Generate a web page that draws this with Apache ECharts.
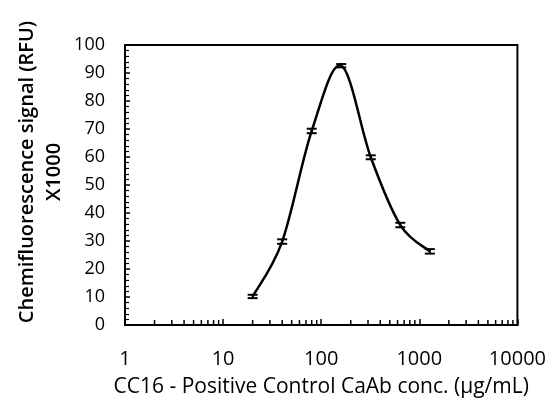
<!DOCTYPE html>
<html>
<head>
<meta charset="utf-8">
<script src="https://cdn.jsdelivr.net/npm/echarts@6/dist/echarts.min.js"></script>
<style>
html,body{margin:0;padding:0;background:#fff;}
#chart{width:549px;height:404px;}
</style>
</head>
<body>
<div id="chart"></div>
<script>
const concentrations = [20, 40, 80, 160, 320, 640, 1280];
const signal = [10.2, 29.8, 69.3, 92.6, 59.9, 35.7, 26.3];
const errors = [0.6, 0.8, 0.8, 0.6, 0.7, 0.8, 0.8];
const xMinorTicks = [2,3,4,5,6,7,8,9,20,30,40,50,60,70,80,90,200,300,400,500,600,700,800,900,2000,3000,4000,5000,6000,7000,8000,9000];
const xTickLabels = ['1','10','100','1000','10000'];
const yTickLabels = ['0','10','20','30','40','50','60','70','80','90','100'];

const FONT = 'Open Sans';
const chart = echarts.init(document.getElementById('chart'));

const lineData = concentrations.map((c, i) => [c, signal[i]]);
const errData = concentrations.map((c, i) => [c, signal[i], errors[i]]);

function curveItem(params, api) {
  if (params.dataIndex !== 0) return null;
  const pts = lineData.map(d => api.coord(d));
  const n = pts.length;
  const children = [];
  for (let i = 0; i < n - 1; i++) {
    const p0 = pts[Math.max(i - 1, 0)], p1 = pts[i], p2 = pts[i + 1], p3 = pts[Math.min(i + 2, n - 1)];
    children.push({type: 'bezierCurve', shape: {
      x1: p1[0], y1: p1[1], x2: p2[0], y2: p2[1],
      cpx1: p1[0] + (p2[0] - p0[0]) / 6, cpy1: p1[1] + (p2[1] - p0[1]) / 6,
      cpx2: p2[0] - (p3[0] - p1[0]) / 6, cpy2: p2[1] - (p3[1] - p1[1]) / 6
    }, style: {stroke: '#000', lineWidth: 2.5, fill: null}});
  }
  return {type: 'group', children};
}

chart.setOption({
  animation: false,
  backgroundColor: '#fff',
  grid: {left: 125, top: 45, right: 31, bottom: 79, show: true, borderColor: '#000', borderWidth: 2, backgroundColor: 'transparent'},
  xAxis: {
    type: 'log', logBase: 10, min: 1, max: 10000,
    axisLine: {lineStyle: {color: '#000', width: 2}},
    axisTick: {inside: true, length: 6, lineStyle: {color: '#000', width: 1.5}},
    splitLine: {show: false},
    axisLabel: {color: '#000', fontFamily: FONT, fontSize: 20, margin: 24,
      formatter: v => { const i = Math.round(Math.log10(v)); return xTickLabels[i] || ''; }},
    name: 'CC16 - Positive Control CaAb conc. (μg/mL)',
    nameLocation: 'middle', nameGap: 52,
    nameTextStyle: {color: '#000', fontFamily: FONT, fontSize: 21}
  },
  yAxis: {
    type: 'value', min: 0, max: 100, interval: 10,
    axisLine: {show: true, lineStyle: {color: '#000', width: 2}},
    axisTick: {show: true, inside: true, length: 5, lineStyle: {color: '#000', width: 1.5}},
    minorTick: {show: true, splitNumber: 5, length: 4, lineStyle: {color: '#000', width: 1.2}},
    splitLine: {show: false},
    axisLabel: {color: '#000', fontFamily: FONT, fontSize: 18, margin: 20,
      formatter: v => yTickLabels[Math.round(v / 10)]}
  },
  graphic: [{
    type: 'text', x: 41, y: 172, rotation: Math.PI / 2,
    style: {text: 'Chemifluorescence signal (RFU)\nX1000', fill: '#000', font: '600 20px "Open Sans"',
      align: 'center', verticalAlign: 'middle', lineHeight: 27}
  }],
  series: [
    {type: 'custom', data: lineData, z: 3, silent: true, clip: false, renderItem: curveItem},
    {type: 'custom', data: errData, z: 4, silent: true,
      renderItem: (params, api) => {
        const x = api.value(0), y = api.value(1), e = api.value(2);
        const lo = api.coord([x, y - e]), hi = api.coord([x, y + e]);
        const hw = 5;
        const st = {stroke: '#000', lineWidth: 2};
        return {type: 'group', children: [
          {type: 'line', shape: {x1: lo[0], y1: lo[1], x2: hi[0], y2: hi[1]}, style: st},
          {type: 'line', shape: {x1: lo[0] - hw, y1: lo[1], x2: lo[0] + hw, y2: lo[1]}, style: st},
          {type: 'line', shape: {x1: hi[0] - hw, y1: hi[1], x2: hi[0] + hw, y2: hi[1]}, style: st}
        ]};
      }},
    {type: 'custom', data: xMinorTicks.map(v => [v, 0]), z: 2, silent: true, clip: false,
      renderItem: (params, api) => {
        const p = api.coord([api.value(0), api.value(1)]);
        return {type: 'line', shape: {x1: p[0], y1: p[1], x2: p[0], y2: p[1] - 5},
          style: {stroke: '#000', lineWidth: 1.5}};
      }}
  ]
});
</script>
</body>
</html>
